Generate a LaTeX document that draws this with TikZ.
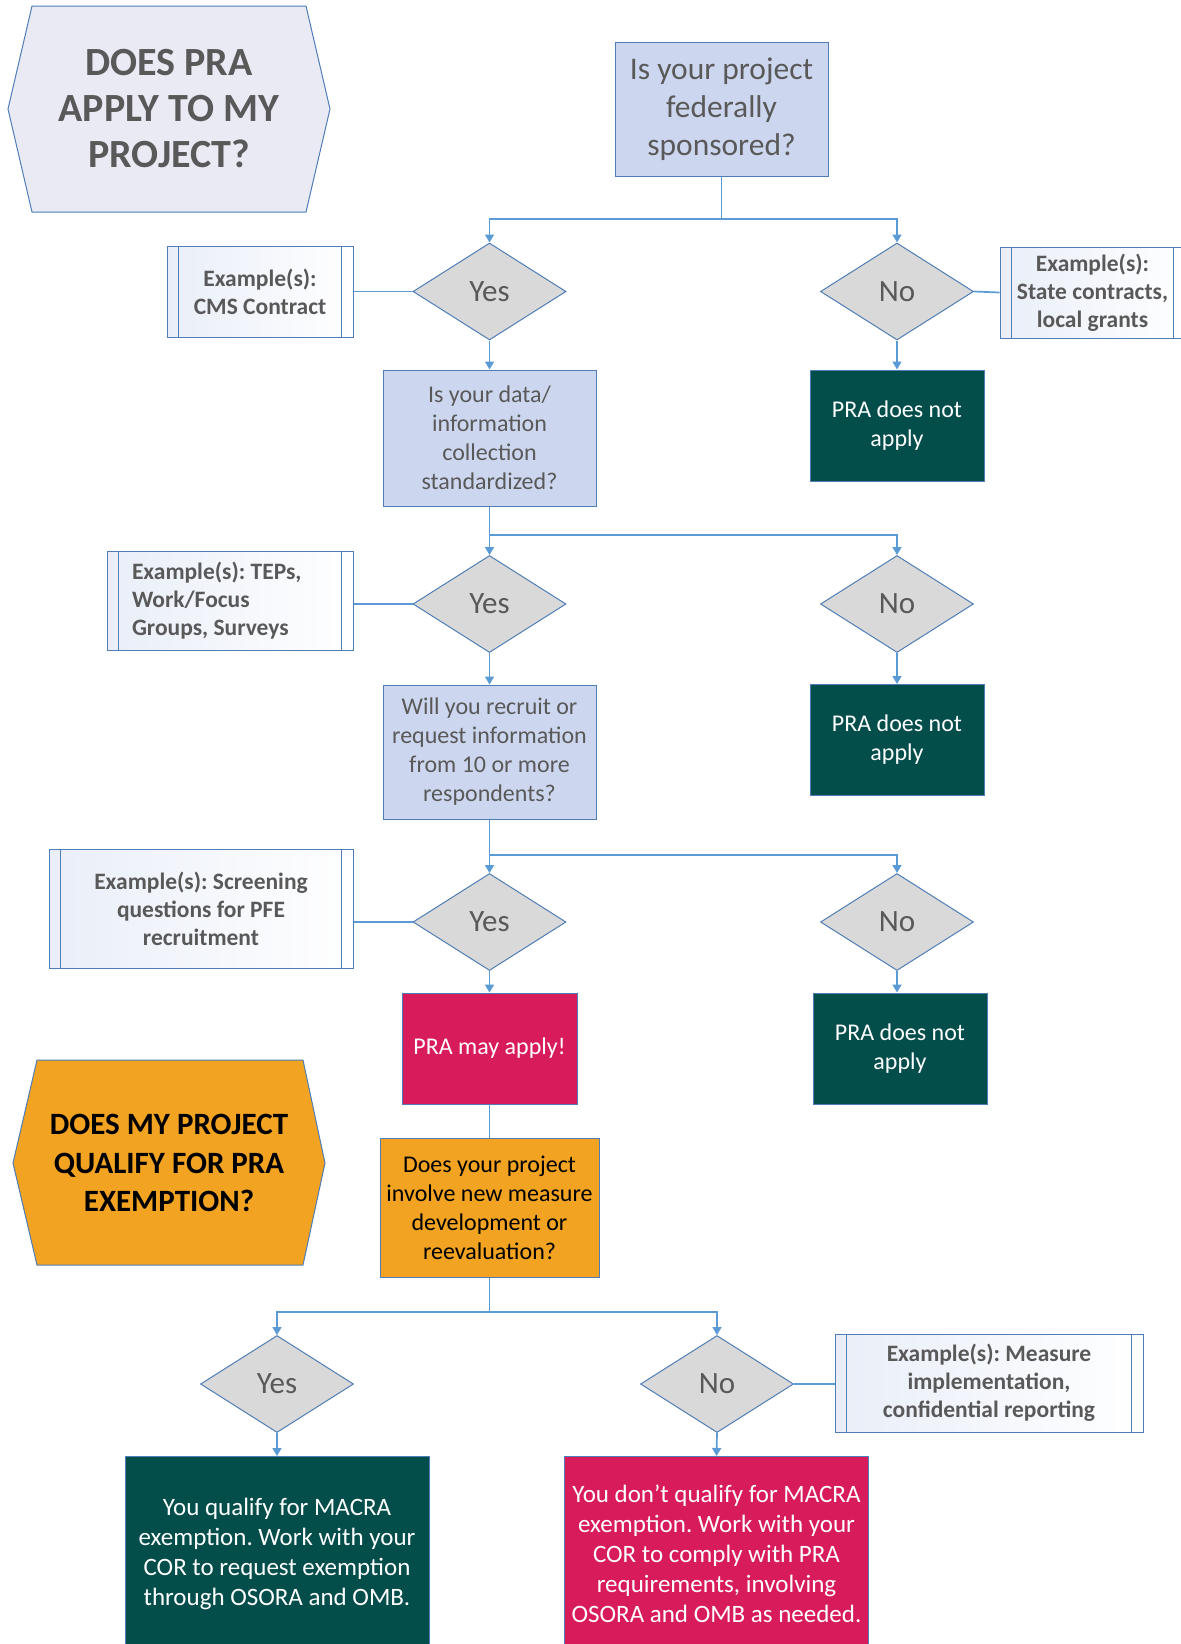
\documentclass[tikz,border=0pt]{standalone}
\usepackage{fontspec}
\setmainfont{Carlito}
\usetikzlibrary{shapes.geometric,arrows.meta}
\definecolor{lineblue}{HTML}{5B9BD5}
\definecolor{edgeblue}{HTML}{4F7DB5}
\definecolor{askfill}{HTML}{CCD6EE}
\definecolor{hexfill}{HTML}{E9EAF3}
\definecolor{decfill}{HTML}{D9D9D9}
\definecolor{stopfill}{HTML}{034D4B}
\definecolor{gofill}{HTML}{D81B5B}
\definecolor{orangefill}{HTML}{F2A322}
\definecolor{txtgray}{HTML}{595959}
\definecolor{exleft}{HTML}{E9EEF8}
\tikzset{
	flow/.style={draw=lineblue, line width=0.85pt},
	flowarrow/.style={flow, -{Triangle[length=4pt,width=4.5pt]}},
	boxline/.style={draw=edgeblue, line width=0.5pt},
	askbox/.style={rectangle, boxline, fill=askfill, text=txtgray, align=center,
		inner sep=2pt, font=\fontsize{12}{14.5}\selectfont},
	decision/.style={diamond, boxline, fill=decfill, text=txtgray, aspect=1.6,
		minimum width=76.5pt, minimum height=48.5pt, inner sep=0pt,
		font=\fontsize{15.5}{18}\selectfont},
	stopbox/.style={rectangle, boxline, fill=stopfill, text=white, align=center,
		minimum width=87pt, minimum height=55.5pt, font=\fontsize{12}{14.5}\selectfont},
	gobox/.style={stopbox, fill=gofill},
	exbox/.style={rectangle, boxline, left color=exleft, right color=white,
		text=txtgray, align=center, font=\bfseries\fontsize{11.75}{14}\selectfont},
	hextext/.style={align=center, font=\bfseries\fontsize{20}{23}\selectfont, text=txtgray},
}
\begin{document}
\frenchspacing
\begin{tikzpicture}[x=0.5pt, y=-0.5pt]
	\useasboundingbox (0,0) rectangle (1181,1644);
	\newcommand{\exampleBox}[5]{
		% args:
		%     name
		%     center
		%     width, height
		%     text
		\node[exbox, minimum width=#3, minimum height=#4] (#1) at (#2) {#5};
		\draw[boxline] ([xshift=6pt]#1.north west) -- ([xshift=6pt]#1.south west);
		\draw[boxline] ([xshift=-6pt]#1.north east) -- ([xshift=-6pt]#1.south east);
	}
	%
	% part one: does PRA apply
	\draw[boxline, fill=hexfill] (8,109) -- (32,6) -- (306,6) -- (330,109) -- (306,212) -- (32,212) -- cycle;
	\node[hextext] (title1) at (169,109) {DOES PRA\\APPLY TO MY\\PROJECT?};
	\node[askbox, minimum width=106.5pt, minimum height=67pt,
		font=\fontsize{15.75}{19}\selectfont] (q1) at (721.5,109) {Is your project\\federally\\sponsored?};
	\node[decision] (yes1) at (489.5,291.5) {Yes};
	\node[decision] (no1) at (897,291.5) {No};
	\exampleBox{ex1}{260,291.5}{93pt}{45.5pt}{Example(s):\\CMS Contract}
	\exampleBox{ex2}{1092.5,292.5}{92.5pt}{45.5pt}{Example(s):\\State contracts,\\local grants}
	\node[askbox, minimum width=106.5pt, minimum height=68pt] (q2) at (489.5,438)
		{Is your data/\\information\\collection\\standardized?};
	\node[stopbox] (dna1) at (897,425.5) {PRA does not\\apply};
	\node[decision] (yes2) at (489.5,604) {Yes};
	\node[decision] (no2) at (897,604) {No};
	\node[exbox, minimum width=123pt, minimum height=49.5pt, align=flush left, text width=98pt] (ex3) at (230,600.5)
		{Example(s): TEPs,\\Work/Focus\\Groups, Surveys};
	\draw[boxline] ([xshift=6pt]ex3.north west) -- ([xshift=6pt]ex3.south west);
	\draw[boxline] ([xshift=-6pt]ex3.north east) -- ([xshift=-6pt]ex3.south east);
	\node[askbox, minimum width=106.5pt, minimum height=67pt] (q3) at (489.5,752)
		{Will you recruit or\\request information\\from 10 or more\\respondents?};
	\node[stopbox] (dna2) at (897,740) {PRA does not\\apply};
	\node[decision] (yes3) at (489.5,922) {Yes};
	\node[decision] (no3) at (897,922) {No};
	\exampleBox{ex4}{201,908.5}{152pt}{59.5pt}{Example(s): Screening\\questions for PFE\\recruitment}
	\node[gobox, minimum width=87.5pt] (may) at (489.5,1048.5) {PRA may apply!};
	\node[stopbox] (dna3) at (900,1048.5) {PRA does not\\apply};
	%
	% part two: exemption
	\draw[boxline, fill=orangefill] (13,1163) -- (37,1060) -- (303,1060) -- (325,1163) -- (303,1265) -- (37,1265) -- cycle;
	\node[hextext, text=black, font=\bfseries\fontsize{15.5}{19.25}\selectfont] (title2) at (169,1163)
		{DOES MY PROJECT\\QUALIFY FOR PRA\\EXEMPTION?};
	\node[askbox, fill=orangefill, text=black, minimum width=109.5pt, minimum height=69.5pt] (q4) at (489.5,1207.5)
		{Does your project\\involve new measure\\development or\\reevaluation?};
	\node[decision] (yes4) at (277,1384) {Yes};
	\node[decision] (no4) at (717,1384) {No};
	\exampleBox{ex5}{989,1383}{154pt}{49pt}{Example(s): Measure\\implementation,\\confidential reporting}
	\node[stopbox, minimum width=152pt, minimum height=97pt, font=\fontsize{12.5}{15}\selectfont] (resyes) at (277,1553.5)
		{You qualify for MACRA\\exemption. Work with your\\COR to request exemption\\through OSORA and OMB.};
	\node[gobox, minimum width=151.5pt, minimum height=97pt, font=\fontsize{12.5}{15}\selectfont] (resno) at (716.5,1553.5)
		{You don’t qualify for MACRA\\exemption. Work with your\\COR to comply with PRA\\requirements, involving\\OSORA and OMB as needed.};
	%
	% connectors
	\coordinate (split1) at (721.5,219);
	\coordinate (split2) at (489.5,535);
	\coordinate (split3) at (489.5,855);
	\coordinate (split4) at (489.5,1312);
	\draw[flow] (q1.south) -- (split1);
	\draw[flowarrow] (split1) -| (yes1.north);
	\draw[flowarrow] (split1) -| (no1.north);
	\draw[flowarrow] (yes1.south) -- (q2.north);
	\draw[flowarrow] (no1.south) -- (dna1.north);
	\draw[flowarrow] (q2.south) -- (yes2.north);
	\draw[flowarrow] (split2) -| (no2.north);
	\draw[flowarrow] (yes2.south) -- (q3.north);
	\draw[flowarrow] (no2.south) -- (dna2.north);
	\draw[flowarrow] (q3.south) -- (yes3.north);
	\draw[flowarrow] (split3) -| (no3.north);
	\draw[flowarrow] (yes3.south) -- (may.north);
	\draw[flowarrow] (no3.south) -- (no3.south |- dna3.north);
	\draw[flow] (may.south) -- (q4.north);
	\draw[flow] (q4.south) -- (split4);
	\draw[flowarrow] (split4) -| (yes4.north);
	\draw[flowarrow] (split4) -| (no4.north);
	\draw[flowarrow] (yes4.south) -- (resyes.north);
	\draw[flowarrow] (no4.south) -- (resno.north);
	% example links
	\draw[flow] (ex1.east) -- (yes1.west);
	\draw[flow] (no1.east) -- (ex2.west);
	\draw[flow] (yes2.west) -- (yes2.west -| ex3.east);
	\draw[flow] (yes3.west) -- (yes3.west -| ex4.east);
	\draw[flow] (no4.east) -- (no4.east -| ex5.west);
\end{tikzpicture}
\end{document}
